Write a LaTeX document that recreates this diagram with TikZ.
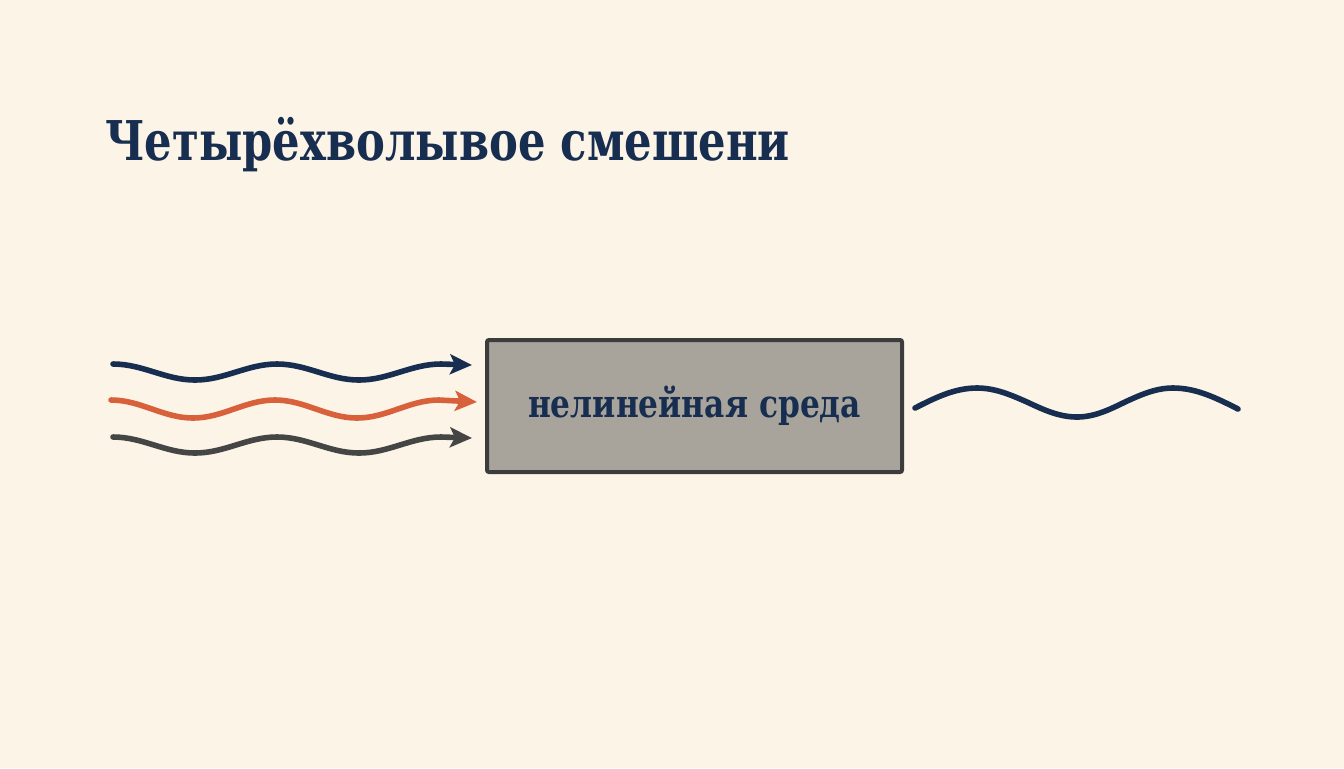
\documentclass[tikz,border=0pt]{standalone}
\usepackage{fontspec}
\setmainfont{DejaVu Serif}
\newfontfamily\titlefont[FakeStretch=0.79]{DejaVu Serif Bold}
\newfontfamily\boxfont[FakeStretch=0.81]{DejaVu Serif Bold}
\usetikzlibrary{arrows.meta}
\definecolor{paper}{HTML}{FCF5E7}
\definecolor{navy}{HTML}{172E50}
\definecolor{rust}{HTML}{D8603A}
\definecolor{slate}{HTML}{454545}
\definecolor{boxgray}{HTML}{A8A49C}
\definecolor{boxline}{HTML}{3C3C3C}
\tikzset{
  wave/.style={line width=2.8pt, line cap=round},
  inwave/.style={wave, -{Stealth[length=11pt,width=10pt,inset=2.5pt]}},
  medium/.style={draw=boxline, line width=2pt, fill=boxgray, rounded corners=1pt,
    minimum width=207.5pt, minimum height=66pt, inner sep=0pt,
    text=navy, font=\boxfont\fontsize{19.3}{22}\selectfont}
}
\begin{document}
\begin{tikzpicture}[x=0.5pt, y=-0.5pt]
\fill[paper] (0,0) rectangle (1344,768);
\useasboundingbox (0,0) rectangle (1344,768);
% title
\node [anchor=base west, inner sep=0pt, text=navy,
  font=\titlefont\fontsize{27.4}{32}\selectfont] (title) at (105,160) {Четырёхволывое смешени};
% medium
\node [medium] (box) at (694.5,406) {нелинейная среда};
% input waves
\coordinate (b1) at (113,364);
\coordinate (b2) at (472,365);
\coordinate (r1) at (111,400);
\coordinate (r2) at (477,402);
\coordinate (g1) at (113,437);
\coordinate (g2) at (472,438);
\draw [inwave, navy] (b1) cos ++(41,8) sin ++(41,8) cos ++(41,-8) sin ++(41,-8)
  cos ++(41,8) sin ++(41,8) cos ++(41,-8) sin ++(41,-8) -- (b2);
\draw [inwave, rust] (r1) cos ++(41,9) sin ++(41,9) cos ++(41,-9) sin ++(41,-9)
  cos ++(41,9) sin ++(41,9) cos ++(41,-9) sin ++(41,-9) -- (r2);
\draw [inwave, slate] (g1) cos ++(41,8) sin ++(41,8) cos ++(41,-8) sin ++(41,-8)
  cos ++(41,8) sin ++(41,8) cos ++(41,-8) sin ++(41,-8) -- (g2);
% output wave
\coordinate (o1) at (915,408);
\coordinate (o2) at (1238,409);
\draw [wave, navy] (o1) sin (977,388) cos (1027,402) sin (1077,417)
  cos (1125,402) sin (1173,388) cos (o2);
\end{tikzpicture}
\end{document}
